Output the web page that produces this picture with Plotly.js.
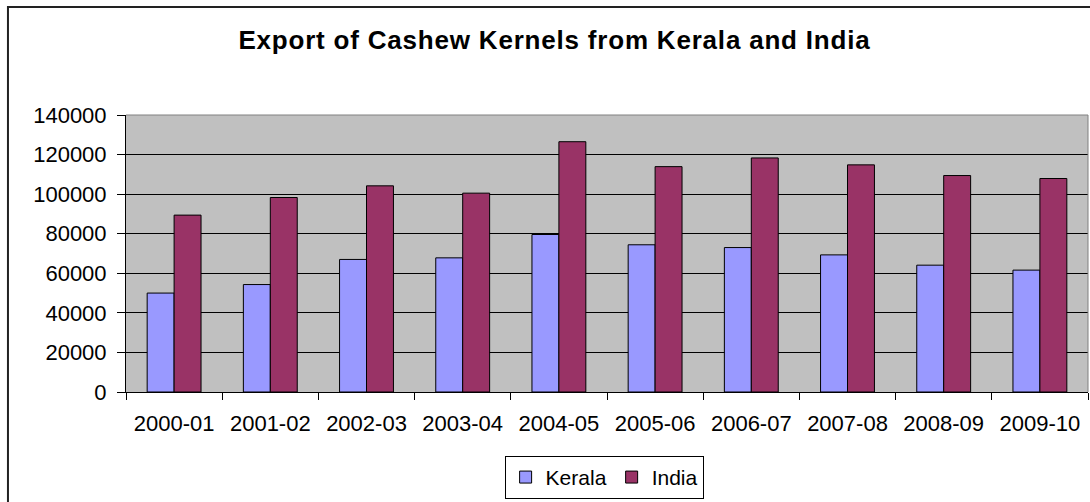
<!DOCTYPE html>
<html>
<head>
<meta charset="utf-8">
<script src="https://cdn.plot.ly/plotly-3.0.1.min.js"></script>
<style>
html,body{margin:0;padding:0;background:#fff;}
#chart .gtitle{letter-spacing:0.8px;}
</style>
</head>
<body>
<div id="chart" style="width:1090px;height:502px;"></div>
<script>
const years = ["2000-01","2001-02","2002-03","2003-04","2004-05","2005-06","2006-07","2007-08","2008-09","2009-10"];
const kerala = [50000, 54300, 67000, 67800, 79600, 74400, 73000, 69300, 64100, 61600];
const india = [89400, 98300, 104200, 100500, 126500, 113900, 118300, 114800, 109400, 107900];
const yTicks = [0, 20000, 40000, 60000, 80000, 100000, 120000, 140000];

const font = "Liberation Sans, Arial, sans-serif";
const traces = [
  {type: "bar", name: "Kerala", x: years, y: kerala,
   marker: {color: "#9999FF", line: {color: "#000000", width: 1}}},
  {type: "bar", name: "India", x: years, y: india,
   marker: {color: "#993366", line: {color: "#000000", width: 1}}}
];

const layout = {
  width: 1090, height: 502,
  margin: {l: 126, r: 2, t: 115, b: 110, autoexpand: false},
  paper_bgcolor: "#ffffff",
  plot_bgcolor: "#C0C0C0",
  font: {family: font, color: "#000000", size: 22},
  title: {text: "<b>Export of Cashew Kernels from Kerala and India</b>",
          font: {family: font, size: 26, color: "#000000"},
          x: 0.5087, xanchor: "center", xref: "container",
          y: 0.92, yanchor: "middle", yref: "container"},
  barmode: "group",
  bargap: 0.44,
  bargroupgap: 0,
  xaxis: {
    type: "category",
    tickson: "boundaries",
    ticks: "outside", ticklen: 7, tickcolor: "#000", tickwidth: 1,
    showline: true, linecolor: "#000", linewidth: 1,
    showgrid: false,
    ticklabelstandoff: 12,
    tickfont: {family: font, size: 22, color: "#000"},
    automargin: false,
    fixedrange: true
  },
  yaxis: {
    range: [0, 140000],
    tickmode: "array", tickvals: yTicks, ticktext: yTicks.map(String),
    ticks: "outside", ticklen: 8, tickcolor: "#000", tickwidth: 1,
    showline: true, linecolor: "#000", linewidth: 1,
    showgrid: true, gridcolor: "#000", gridwidth: 1,
    zeroline: false,
    ticklabelstandoff: 6,
    tickfont: {family: font, size: 22, color: "#000"},
    automargin: false,
    fixedrange: true
  },
  legend: {
    orientation: "h",
    x: 0.497, xanchor: "center",
    y: -0.386, yanchor: "bottom",
    bordercolor: "#000", borderwidth: 1, bgcolor: "#fff",
    font: {family: font, size: 21, color: "#000"},
    itemwidth: 30, tracegroupgap: 0
  },
  shapes: [
    {type: "line", xref: "paper", yref: "paper", x0: 0, x1: 1, y0: 1, y1: 1,
     line: {color: "#808080", width: 1}},
    {type: "line", xref: "paper", yref: "paper", x0: 1, x1: 1, y0: 0, y1: 1,
     line: {color: "#808080", width: 1}},
    {type: "rect", xref: "paper", yref: "paper", x0: -0.1227, x1: 1.02, y0: -0.5, y1: 1.3899,
     line: {color: "#222", width: 2}, layer: "below"}
  ]
};

Plotly.newPlot("chart", traces, layout, {displayModeBar: false, staticPlot: true});
</script>
</body>
</html>
